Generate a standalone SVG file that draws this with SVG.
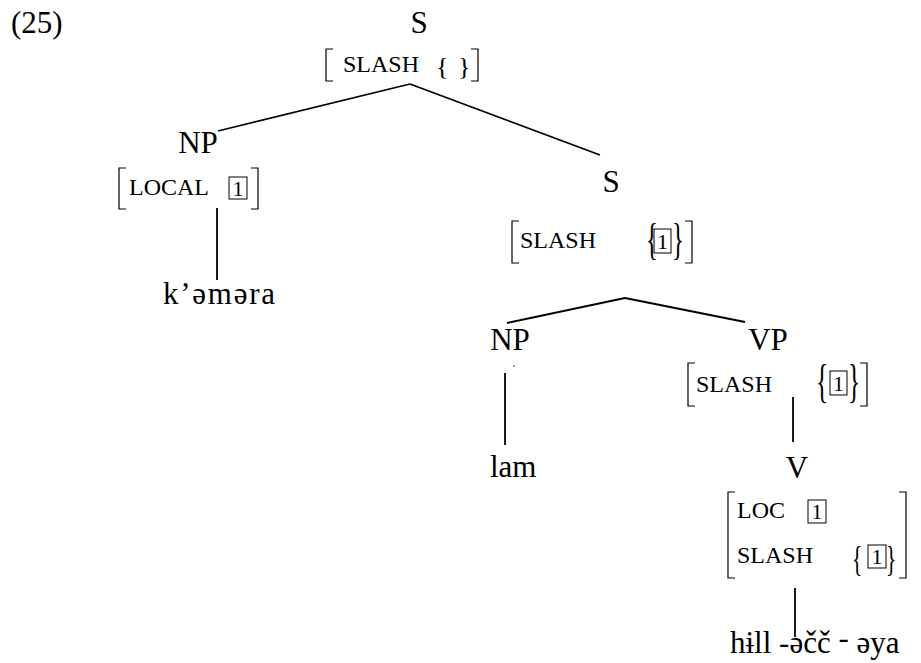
<svg xmlns="http://www.w3.org/2000/svg" width="921" height="663" viewBox="0 0 921 663">
<style>
text{font-family:"Liberation Serif","Times New Roman",serif;fill:#000}
.lab{font-size:31px}
.feat{font-size:24px}
.num{font-size:22px;text-anchor:middle}
.br{fill:none;stroke:#000;stroke-width:1.2}
.box{fill:none;stroke:#000;stroke-width:1}
.edge{stroke:#000;stroke-width:1.8;fill:none}
</style>
<rect width="921" height="663" fill="#fff"/>
<text class="lab" x="11" y="33">(25)</text>

<g id="s-top">
<text class="lab" x="419" y="33" text-anchor="middle">S</text>
<path class="br" d="M333,49 H326 V81 H333"/>
<text class="feat" x="343" y="72">SLASH</text>
<text x="436" y="75" font-size="26">{</text>
<text x="458" y="75" font-size="26">}</text>
<path class="br" d="M471,49 H478 V81 H471"/>
</g>

<g id="np1">
<text class="lab" x="198" y="153" text-anchor="middle">NP</text>
<path class="br" d="M126,168 H119 V209 H126"/>
<text class="feat" x="129" y="195">LOCAL</text>
<rect class="box" x="229" y="177" width="18" height="22"/>
<text class="num" x="238" y="196">1</text>
<path class="br" d="M251,168 H258 V209 H251"/>
</g>

<g id="w1">
<text class="lab" x="163" y="304" textLength="112" lengthAdjust="spacing">k’əmәra</text>
</g>

<g id="s2">
<text class="lab" x="611" y="192" text-anchor="middle">S</text>
<path class="br" d="M519,221 H512 V263 H519"/>
<text class="feat" x="520" y="248">SLASH</text>
<text transform="translate(646,254) scale(0.55,1)" font-size="45">{</text>
<rect class="box" x="654" y="229" width="17" height="24"/>
<text class="num" x="662.5" y="249">1</text>
<text transform="translate(672,254) scale(0.55,1)" font-size="45">}</text>
<path class="br" d="M685,221 H692 V263 H685"/>
</g>

<g id="np2">
<text class="lab" x="510" y="350" text-anchor="middle">NP</text>
<circle cx="514" cy="366" r="0.7" fill="#000"/>
</g>

<g id="w2">
<text class="lab" x="490" y="477">lam</text>
</g>

<g id="vp">
<text class="lab" x="768" y="350" text-anchor="middle">VP</text>
<path class="br" d="M695,363 H688 V406 H695"/>
<text class="feat" x="696" y="392">SLASH</text>
<text transform="translate(816,397) scale(0.55,1)" font-size="46">{</text>
<rect class="box" x="830" y="371" width="17" height="24"/>
<text class="num" x="838.5" y="391">1</text>
<text transform="translate(848,397) scale(0.55,1)" font-size="46">}</text>
<path class="br" d="M860,363 H867 V406 H860"/>
</g>

<g id="v">
<text class="lab" x="797" y="478" text-anchor="middle">V</text>
<path class="br" d="M735,492 H728 V578 H735"/>
<text class="feat" x="737" y="518">LOC</text>
<rect class="box" x="808" y="500" width="18" height="23"/>
<text class="num" x="817" y="519">1</text>
<text class="feat" x="737" y="563">SLASH</text>
<text transform="translate(852,571) scale(0.6,1)" font-size="36">{</text>
<rect class="box" x="868" y="545" width="18" height="23"/>
<text class="num" x="877" y="564">1</text>
<text transform="translate(886,571) scale(0.6,1)" font-size="36">}</text>
<path class="br" d="M899,492 H906 V578 H899"/>
</g>

<g id="w3">
<text class="lab" x="730" y="653">hɨll -əčč <tspan dy="-5">-</tspan><tspan dy="5"> əya</tspan></text>
</g>

<g id="edges">
<line class="edge" x1="410" y1="84" x2="218" y2="131"/>
<line class="edge" x1="410" y1="84" x2="600" y2="155"/>
<line class="edge" x1="217" y1="208" x2="217" y2="280"/>
<line class="edge" x1="625" y1="298" x2="507" y2="323"/>
<line class="edge" x1="625" y1="298" x2="745" y2="322"/>
<line class="edge" x1="505" y1="373" x2="505" y2="445"/>
<line class="edge" x1="793" y1="397" x2="793" y2="442"/>
<line class="edge" x1="795" y1="588" x2="795" y2="637"/>
</g>
</svg>
